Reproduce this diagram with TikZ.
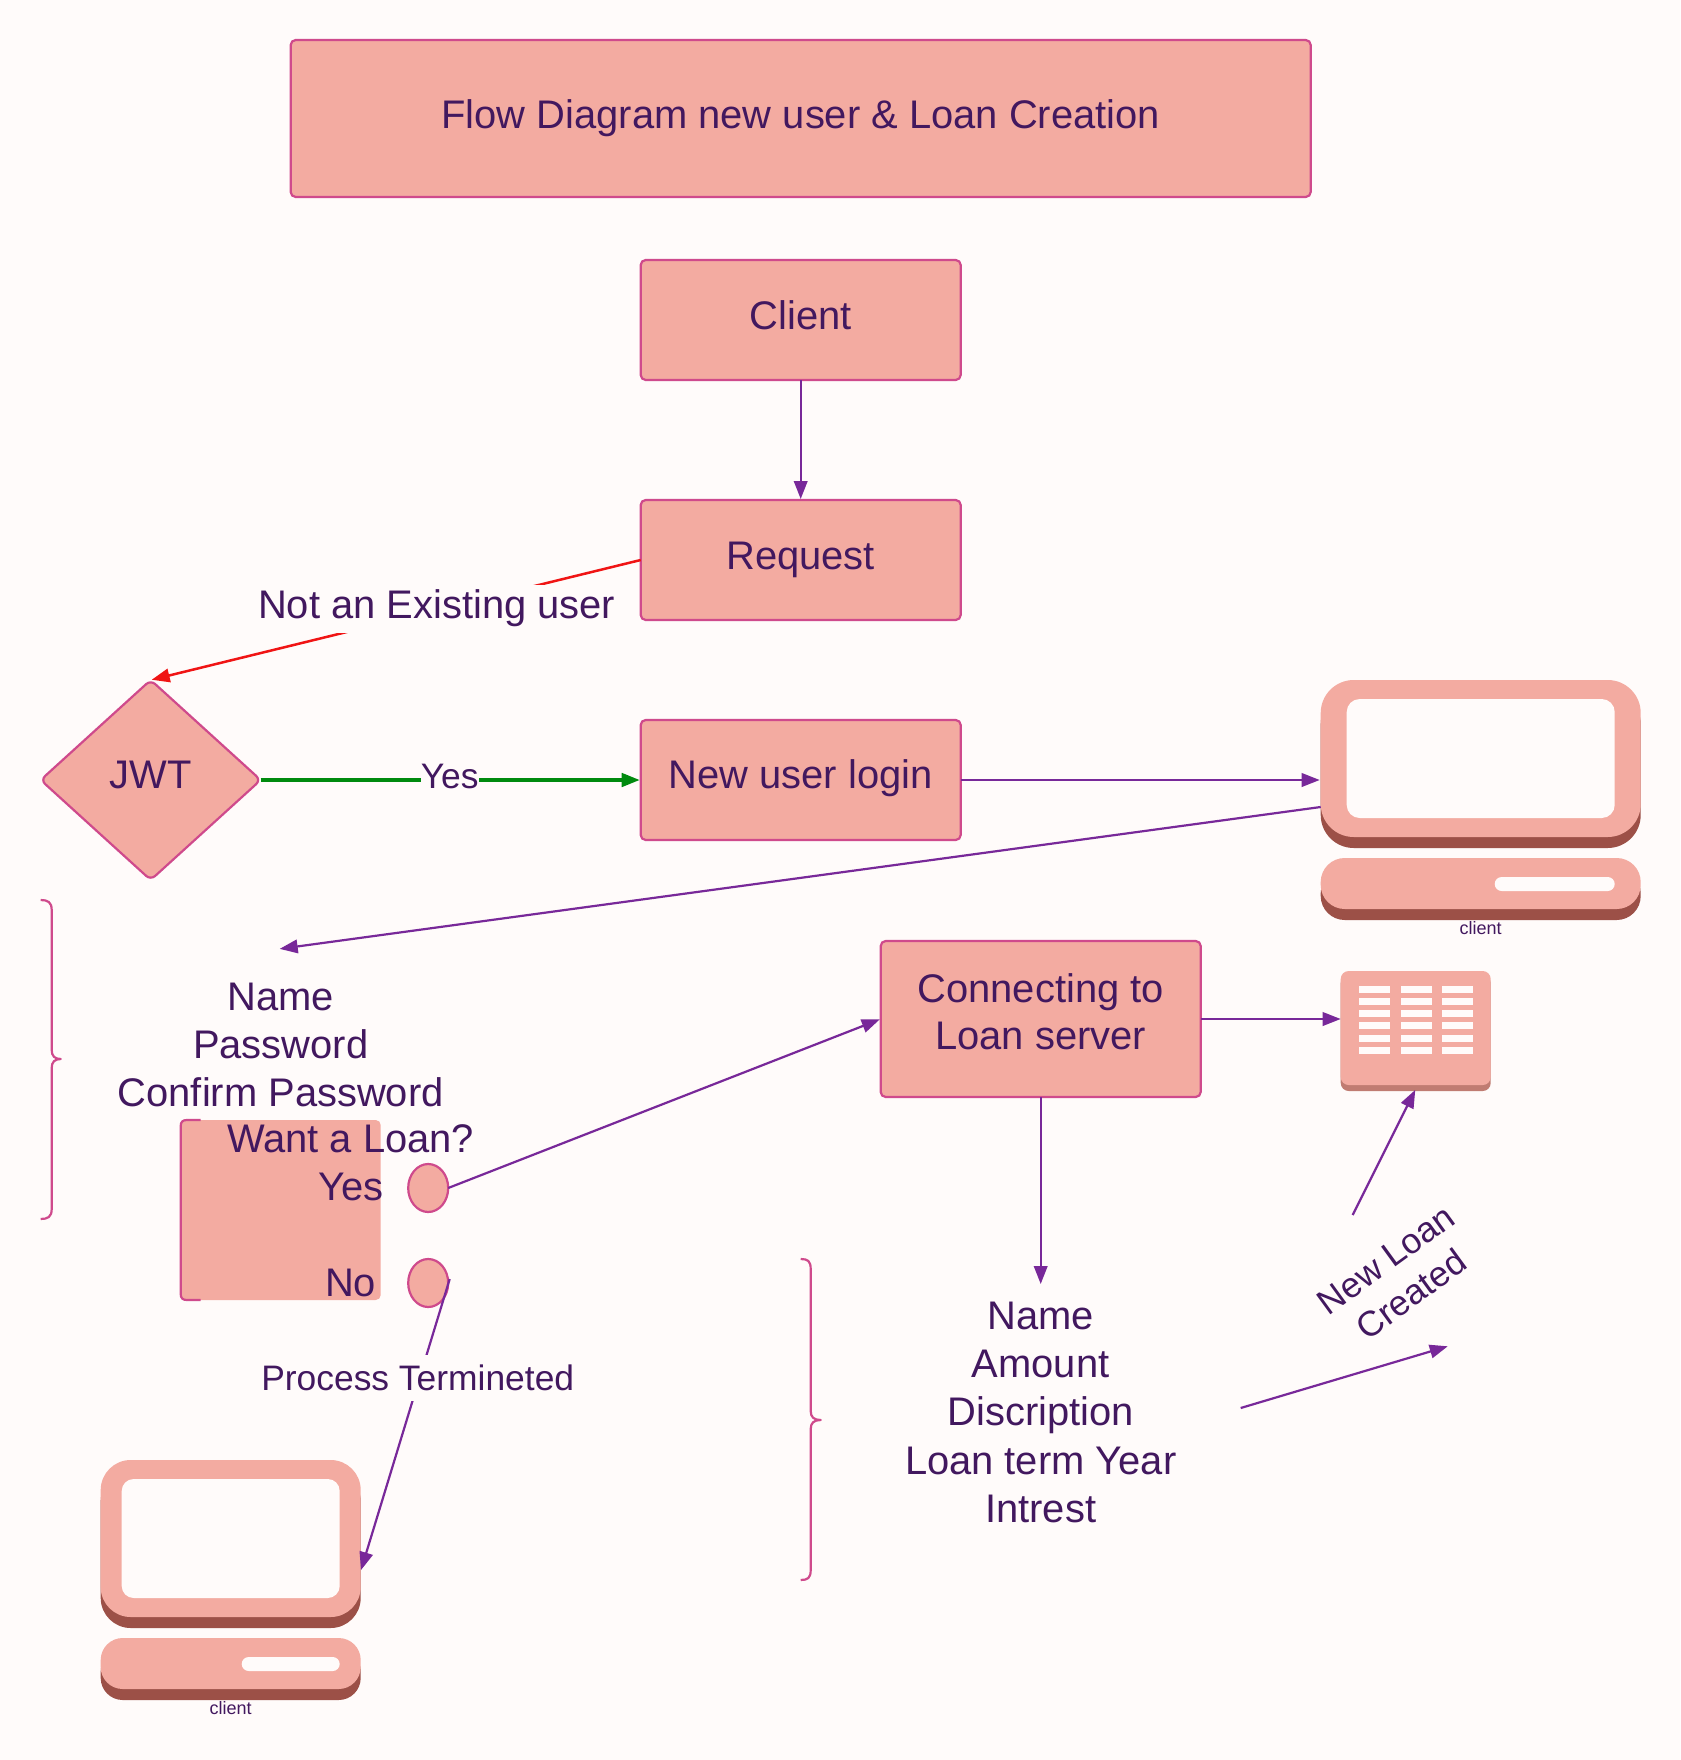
\documentclass[tikz,border=0pt]{standalone}
\usepackage{fontspec}
\setmainfont{Liberation Sans}
\usetikzlibrary{shapes.geometric,arrows.meta}
\definecolor{bgc}{HTML}{FFFBFA}
\definecolor{fillc}{HTML}{F3ABA1}
\definecolor{strokec}{HTML}{CF4A8C}
\definecolor{textc}{HTML}{42185F}
\definecolor{arrowc}{HTML}{782899}
\definecolor{shadec}{HTML}{9C5047}
\definecolor{tshade}{HTML}{C07C72}
\definecolor{redc}{HTML}{F01414}
\definecolor{greenc}{HTML}{008A0E}
\newcommand{\bigf}{\fontsize{39.9}{48}\selectfont}
\newcommand{\midf}{\fontsize{35.4}{43}\selectfont}
\tikzset{
  x=1pt,y=-1pt,
  box/.style={draw=strokec,fill=fillc,line width=2.2pt,rounded corners=5pt,inner sep=0pt,outer sep=0pt,text=textc,font=\bigf,align=center},
  txt/.style={text=textc,font=\bigf,inner sep=0pt,align=center},
  edgelab/.style={text=textc,font=\midf,inner xsep=0pt,inner ysep=0pt,fill=bgc,minimum height=46pt},
  flow/.style={draw=arrowc,line width=2.2pt,shorten >=1pt,-{Triangle[length=18pt,width=13.5pt]}},
  redflow/.style={flow,draw=redc,line width=2.5pt},
  greenflow/.style={flow,draw=greenc,line width=3.2pt},
  face/.style={fill=fillc},
  hole/.style={fill=bgc},
  brace/.style={draw=strokec,line width=2.2pt,line join=round},
  small/.style={text=textc,font=\fontsize{18}{22}\selectfont,inner sep=0pt},
  dot/.style={ellipse,draw=strokec,fill=fillc,line width=2.2pt,minimum width=40pt,minimum height=48pt,inner sep=0pt,outer sep=0pt}
}
\begin{document}
\begin{tikzpicture}
\useasboundingbox (-0.7,0) rectangle (1679.3,1760);
\fill[bgc] (-0.7,0) rectangle (1679.3,1760);

% boxes
\node[box,minimum width=1020pt,minimum height=157pt] (title) at (800,118.5) {\raisebox{5pt}{Flow Diagram new user \& Loan Creation}};
\node[box,minimum width=320pt,minimum height=120pt] (client) at (800,320) {\raisebox{10.5pt}{Client}};
\node[box,minimum width=320pt,minimum height=120pt] (request) at (800,560) {\raisebox{9pt}{Request}};
\node[box,minimum width=320pt,minimum height=120pt] (newuser) at (800,780) {\raisebox{11.5pt}{New user login}};
\node[box,minimum width=320pt,minimum height=156pt] (conn) at (1040,1019) {\raisebox{14.6pt}{\parbox[b]{310pt}{\centering\bigf\setlength{\baselineskip}{47.5pt}Connecting to\\Loan server}}};
\node[diamond,box,rounded corners=6pt,minimum width=220pt,minimum height=200pt,aspect=1.1] (jwt) at (150,780) {\raisebox{9.5pt}{JWT}};

% computer 1
\fill[shadec,rounded corners=33pt] (1320,691) rectangle (1640,848);
\fill[face,rounded corners=33pt] (1320,680) rectangle (1640,837);
\fill[hole,rounded corners=13pt] (1346,699) rectangle (1614,818);
\fill[shadec,rounded corners=24pt] (1320,869) rectangle (1640,920);
\fill[face,rounded corners=24pt] (1320,858) rectangle (1640,909);
\fill[hole,rounded corners=7pt] (1494,877) rectangle (1614,891);
\node[small] (clienta) at (1480,928) {client};
\coordinate (compAin) at (1320,780);
\coordinate (compAout) at (1320,807);

% computer 2
\fill[shadec,rounded corners=30pt] (100,1471) rectangle (360,1628);
\fill[face,rounded corners=30pt] (100,1460) rectangle (360,1617);
\fill[hole,rounded corners=12pt] (121,1479) rectangle (339,1598);
\fill[shadec,rounded corners=22pt] (100,1649) rectangle (360,1700);
\fill[face,rounded corners=22pt] (100,1638) rectangle (360,1689);
\fill[hole,rounded corners=7pt] (241,1657) rectangle (339,1671);
\node[small] (clientb) at (230,1708.5) {client};
\coordinate (compBin) at (360,1571);

% table icon
\fill[tshade,rounded corners=8pt] (1340,975) rectangle (1490,1091);
\fill[face,rounded corners=8pt] (1340,971) rectangle (1490,1085);
\foreach \xx/\yy in {1358/985.7,1400/985.7,1441/985.7,1358/998,1400/998,1441/998,1358/1010,1400/1010,1441/1010,1358/1022.3,1400/1022.3,1441/1022.3,1358/1034.7,1400/1034.7,1441/1034.7,1358/1047,1400/1047,1441/1047}{
    \fill[hole] (\xx,\yy) rectangle +(31,7);
}
\coordinate (tableW) at (1341,1019);
\coordinate (tableS) at (1415,1089);

% braces
\draw[brace] (40,900) .. controls (47,900) and (51,902) .. (51,910) -- (51,1050) .. controls (51,1056) and (54,1059) .. (60,1059) .. controls (54,1059) and (51,1062) .. (51,1068) -- (51,1209) .. controls (51,1217) and (47,1219) .. (40,1219);
\draw[brace] (800,1259) .. controls (807,1259) and (810,1261) .. (810,1269) -- (810,1411) .. controls (810,1417) and (813,1420) .. (820,1420) .. controls (813,1420) and (810,1423) .. (810,1429) -- (810,1570) .. controls (810,1578) and (807,1580) .. (800,1580);

% loan box
\fill[fillc,rounded corners=5pt] (180,1120) rectangle (380,1300);
\draw[brace] (200,1120) -- (186,1120) .. controls (182,1120) and (180,1122) .. (180,1126) -- (180,1294) .. controls (180,1298) and (182,1300) .. (186,1300) -- (200,1300);
\node[dot] (yesdot) at (427.5,1188) {};
\node[dot] (nodot) at (427.5,1283) {};

% form texts
\coordinate (formtop) at (278,949);
\node[txt] (name) at (280,997) {Name};
\node[txt] (pass) at (280,1044) {Password};
\node[txt] (conf) at (280,1092.5) {Confirm Password};
\node[txt] (want) at (350,1139) {Want a Loan?};
\node[txt,anchor=east] (yes) at (383,1187) {Yes};
\node[txt,anchor=east] (no) at (375.5,1283) {No};

% loan form text
\node[txt] (fa) at (1040,1316) {Name};
\node[txt] (fb) at (1040,1364) {Amount};
\node[txt] (fc) at (1040,1415) {Discription};
\node[txt] (fd) at (1040,1460.5) {Loan term Year};
\node[txt] (fe) at (1040,1508.5) {Intrest};
\coordinate (ftop) at (1040,1285);

% created label
\coordinate (ca) at (1240,1408);
\coordinate (cb) at (1448,1346);
\coordinate (cc) at (1352,1215);
\coordinate (noout) at (449,1279);

% connectors
\draw[flow] (client.south) -- (request.north);
\draw[redflow] (request.west) -- (jwt.north);
\draw[greenflow] (jwt.east) -- (newuser.west);
\draw[flow] (newuser.east) -- (compAin);
\draw[flow] (compAout) -- (formtop);
\draw[flow] (yesdot.east) -- (conn.west);
\draw[flow] (conn.east) -- (tableW);
\draw[flow] (conn.south) -- (ftop);
\draw[flow] (noout) -- (compBin);
\draw[flow] (ca) -- (cb);
\draw[flow] (cc) -- (tableS);

% edge labels
\node[edgelab,font=\bigf,minimum height=48pt] (lnot) at (436,608.5) {Not an Existing user};
\node[edgelab] (lyes) at (449,780) {\raisebox{7pt}{Yes}};
\node[edgelab] (lproc) at (417,1378) {Process Termineted};
\node[rotate=36,text=textc,font=\midf,inner sep=0pt,align=center] (lcreated) at (1398,1277) {New Loan\\Created};
\end{tikzpicture}
\end{document}
